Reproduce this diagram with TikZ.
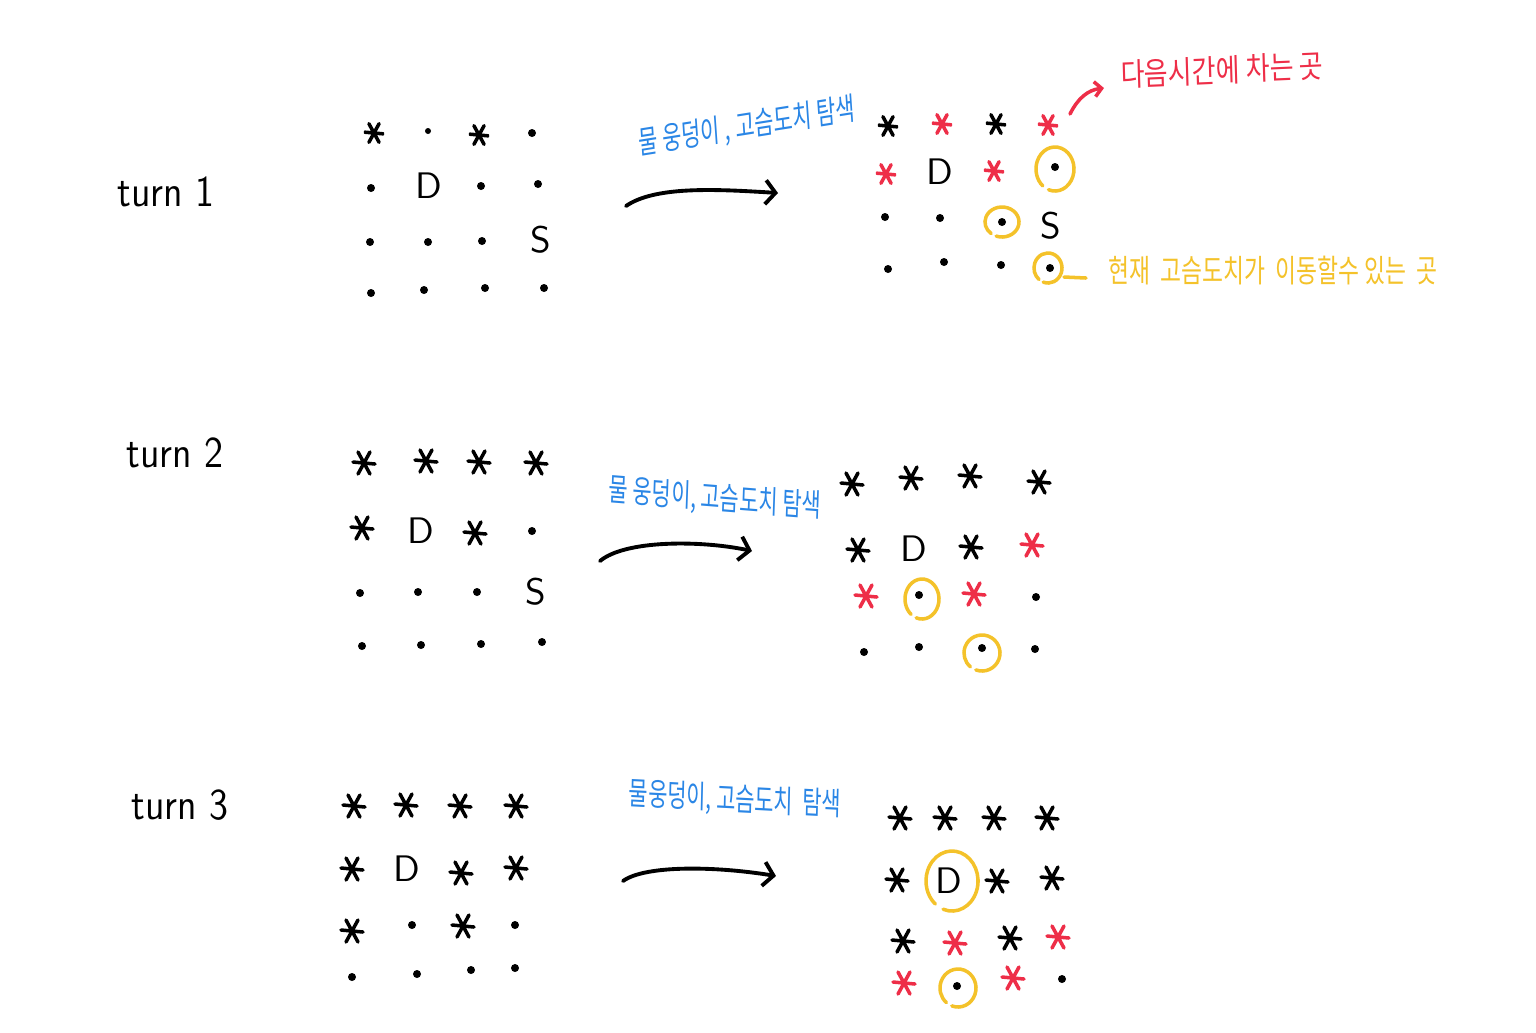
\documentclass[tikz,border=0pt]{standalone}
\usepackage{fontspec}
\newfontfamily\kr{Noto Sans CJK KR}
\usetikzlibrary{arrows.meta}
\definecolor{hblue}{HTML}{2A86E6}
\definecolor{hred}{HTML}{EE2E48}
\definecolor{hyel}{HTML}{F4C22A}
\newcommand\myast[1]{\draw[line width=1pt, line cap=round,#1]
 ([shift={(-0.11cm,0.01cm)}]path picture bounding box.center) -- ([shift={(0.11cm,-0.01cm)}]path picture bounding box.center)
 ([shift={(-0.06cm,0.11cm)}]path picture bounding box.center) -- ([shift={(0.06cm,-0.11cm)}]path picture bounding box.center)
 ([shift={(0.06cm,0.11cm)}]path picture bounding box.center) -- ([shift={(-0.06cm,-0.11cm)}]path picture bounding box.center);}
% node, shift, x radius, y radius
\newcommand\ringat[4]{\draw[ring] ([shift={#2}]#1.center) ++(250:#3 and #4) arc[start angle=250,end angle=590,x radius=#3,y radius=#4];}
\tikzset{
 ast/.style={rectangle, inner sep=0pt, minimum size=0.3cm, path picture={\myast{#1}}},
 ast/.default=black,
 sast/.style={rectangle, inner sep=0pt, minimum size=0.24cm, scale=0.85, path picture={\myast{#1}}},
 sast/.default=black,
 dot/.style={circle, fill=black, inner sep=0pt, minimum size=0.08cm},
 letter/.style={font=\sffamily\fontsize{10.5}{11}\selectfont, inner sep=0pt},
 turnlbl/.style={font=\sffamily\fontsize{12.5}{13}\selectfont, xscale=0.88, inner sep=0pt},
 bluelbl/.style={text=hblue, font=\kr\fontsize{9}{9}\selectfont, xscale=0.66, inner sep=0pt},
 ring/.style={draw=hyel, line width=1pt, line cap=round},
 bigarrow/.style={draw=black, line width=1.1pt, line cap=round, -{Straight Barb[length=0.1cm,width=0.24cm,line width=1.1pt]}},
}
\begin{document}
\begin{tikzpicture}[x=0.01cm,y=-0.01cm]
\useasboundingbox[fill=white] (0,0) rectangle (1536,1032);

% ---------------- turn 1 ----------------
\node[turnlbl] (t1) at (166,192) {turn 1};
% left grid
\node[sast] (a11) at (374,133) {};
\node[dot, minimum size=0.06cm] (a12) at (428,131) {};
\node[sast] (a13) at (479,135) {};
\node[dot] (a14) at (532,133) {};
\node[dot] (a21) at (371,188) {};
\node[letter] (a22) at (429,186) {D};
\node[dot] (a23) at (481,186) {};
\node[dot] (a24) at (538,184) {};
\node[dot] (a31) at (370,242) {};
\node[dot] (a32) at (428,242) {};
\node[dot] (a33) at (482,241) {};
\node[letter] (a34) at (541,240) {S};
\node[dot] (a41) at (371,293) {};
\node[dot] (a42) at (424,290) {};
\node[dot] (a43) at (485,288) {};
\node[dot] (a44) at (544,288) {};
% arrow + label
\coordinate (p1s) at (626,206);
\coordinate (p1e) at (778,193);
\draw[bigarrow] (p1s) .. controls (655,186) and (715,189) .. (p1e);
\node[bluelbl, rotate=6] (b1) at (747,127) {물 웅덩이 , 고슴도치 탐색};
% right grid
\node[sast] (b11) at (888,126) {};
\node[sast=hred] (b12) at (942,124) {};
\node[sast] (b13) at (996,124) {};
\node[sast=hred] (b14) at (1048,125) {};
\node[sast=hred] (b21) at (886,174) {};
\node[letter] (b22) at (940,172) {D};
\node[sast=hred] (b23) at (994,171) {};
\node[dot] (b24) at (1055,167) {};
\node[dot] (b31) at (885,217) {};
\node[dot] (b32) at (940,218) {};
\node[dot] (b33) at (1002,222) {};
\node[letter] (b34) at (1051,226) {S};
\node[dot] (b41) at (888,269) {};
\node[dot] (b42) at (944,262) {};
\node[dot] (b43) at (1001,265) {};
\node[dot] (b44) at (1050,268) {};
\ringat{b24}{(0cm,-0.02cm)}{0.19cm}{0.22cm}
\ringat{b33}{(0cm,0cm)}{0.17cm}{0.15cm}
\ringat{b44}{(-0.02cm,0cm)}{0.14cm}{0.15cm}
% annotations
\coordinate (rs) at (1070,114);
\coordinate (re) at (1104,88);
\draw[hred, line width=1pt, line cap=round, -{Straight Barb[length=0.07cm,width=0.15cm,line width=1pt]}] (rs) .. controls (1078,98) and (1088,90) .. (re);
\node[text=hred, font=\kr\fontsize{9}{9}\selectfont, xscale=0.82, rotate=2, inner sep=0pt] (redlbl) at (1222,70) {다음시간에 차는 곳};
\coordinate (ys) at (1064,277);
\coordinate (ye) at (1086,278);
\draw[hyel, line width=1pt, line cap=round] (ys) -- (ye);
\node[text=hyel, font=\kr\fontsize{9}{9}\selectfont, xscale=0.72, inner sep=0pt] (yellbl) at (1273,271) {현재 \ 고슴도치가 \ 이동할수 있는 \ 곳};

% ---------------- turn 2 ----------------
\node[turnlbl] (t2) at (175,453) {turn 2};
\node[ast] (c11) at (364,463) {};
\node[ast] (c12) at (426,461) {};
\node[ast] (c13) at (479,462) {};
\node[ast] (c14) at (536,463) {};
\node[ast] (c21) at (362,528) {};
\node[letter] (c22) at (421,531) {D};
\node[ast] (c23) at (475,533) {};
\node[dot] (c24) at (532,531) {};
\node[dot] (c31) at (360,593) {};
\node[dot] (c32) at (418,592) {};
\node[dot] (c33) at (477,592) {};
\node[letter] (c34) at (536,592) {S};
\node[dot] (c41) at (362,646) {};
\node[dot] (c42) at (421,645) {};
\node[dot] (c43) at (481,644) {};
\node[dot] (c44) at (542,642) {};
\coordinate (p2s) at (600,561);
\coordinate (p2e) at (752,551);
\draw[bigarrow] (p2s) .. controls (625,540) and (700,540) .. (p2e);
\node[bluelbl, rotate=-3] (b2) at (715,499) {물 웅덩이, 고슴도치 탐색};
\node[ast] (d11) at (852,484) {};
\node[ast] (d12) at (911,478) {};
\node[ast] (d13) at (970,476) {};
\node[ast] (d14) at (1039,482) {};
\node[ast] (d21) at (858,550) {};
\node[letter] (d22) at (914,549) {D};
\node[ast] (d23) at (971,547) {};
\node[ast=hred] (d24) at (1032,545) {};
\node[ast=hred] (d31) at (866,596) {};
\node[dot] (d32) at (919,595) {};
\node[ast=hred] (d33) at (974,594) {};
\node[dot] (d34) at (1036,597) {};
\node[dot] (d41) at (864,652) {};
\node[dot] (d42) at (919,647) {};
\node[dot] (d43) at (982,648) {};
\node[dot] (d44) at (1035,649) {};
\ringat{d32}{(0.03cm,-0.04cm)}{0.17cm}{0.2cm}
\ringat{d43}{(0cm,-0.05cm)}{0.18cm}{0.18cm}

% ---------------- turn 3 ----------------
\node[turnlbl] (t3) at (180,805) {turn 3};
\node[ast] (e11) at (354,806) {};
\node[ast] (e12) at (406,805) {};
\node[ast] (e13) at (460,806) {};
\node[ast] (e14) at (516,806) {};
\node[ast] (e21) at (352,869) {};
\node[letter] (e22) at (407,869) {D};
\node[ast] (e23) at (461,873) {};
\node[ast] (e24) at (516,868) {};
\node[ast] (e31) at (352,931) {};
\node[dot] (e32) at (412,925) {};
\node[ast] (e33) at (463,926) {};
\node[dot] (e34) at (515,925) {};
\node[dot] (e41) at (352,977) {};
\node[dot] (e42) at (417,974) {};
\node[dot] (e43) at (471,970) {};
\node[dot] (e44) at (515,968) {};
\coordinate (p3s) at (623,881);
\coordinate (p3e) at (776,876);
\draw[bigarrow] (p3s) .. controls (645,865) and (715,866) .. (p3e);
\node[bluelbl, rotate=-2] (b3) at (735,800) {물웅덩이, 고슴도치 \ 탐색};
\node[ast] (f11) at (900,818) {};
\node[ast] (f12) at (945,818) {};
\node[ast] (f13) at (994,818) {};
\node[ast] (f14) at (1047,818) {};
\node[ast] (f21) at (897,880) {};
\node[letter] (f22) at (949,881) {D};
\node[ast] (f23) at (997,881) {};
\node[ast] (f24) at (1052,878) {};
\node[ast] (f31) at (903,941) {};
\node[ast=hred] (f32) at (955,943) {};
\node[ast] (f33) at (1010,938) {};
\node[ast=hred] (f34) at (1058,937) {};
\node[ast=hred] (f41) at (904,983) {};
\node[dot] (f42) at (957,986) {};
\node[ast=hred] (f43) at (1013,978) {};
\node[dot] (f44) at (1062,979) {};
\ringat{f22}{(0.03cm,0cm)}{0.26cm}{0.3cm}
\ringat{f42}{(0.01cm,-0.02cm)}{0.18cm}{0.19cm}
\end{tikzpicture}
\end{document}
